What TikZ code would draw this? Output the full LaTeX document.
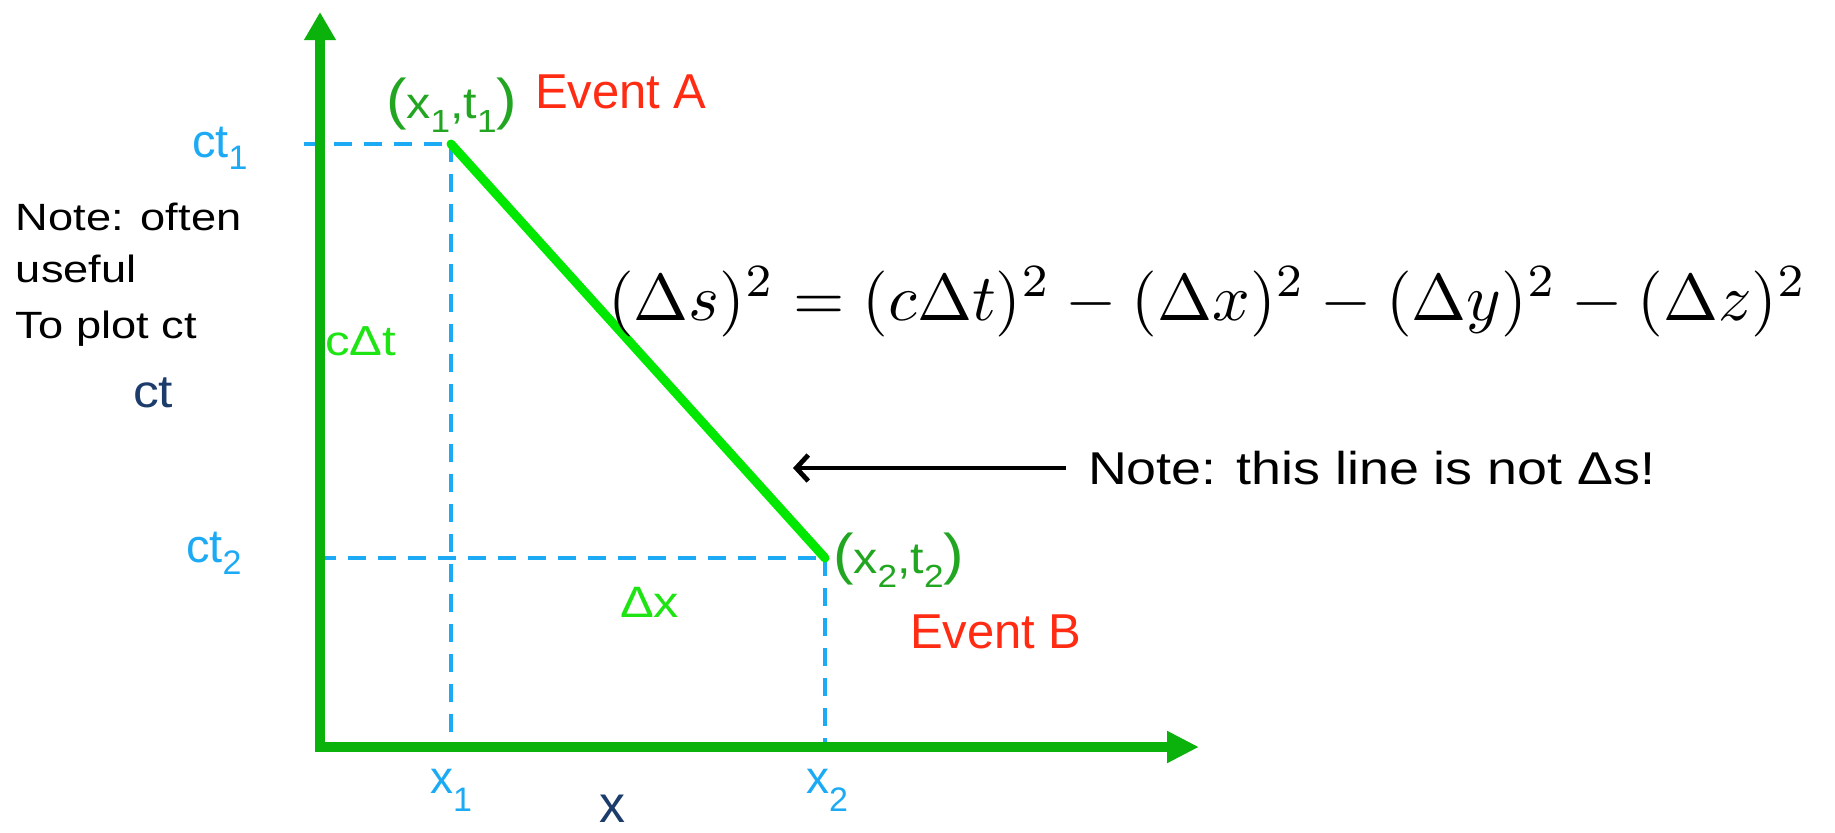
\documentclass[tikz,border=0pt]{standalone}
\usepackage{fontspec}
\setmainfont{Liberation Sans}
\usepackage{graphicx}
\usetikzlibrary{arrows.meta}
\definecolor{axisgreen}{RGB}{12,178,12}
\definecolor{linegreen}{RGB}{0,232,0}
\definecolor{labgreen}{RGB}{34,166,34}
\definecolor{neongreen}{RGB}{30,228,20}
\definecolor{skyblue}{RGB}{28,170,244}
\definecolor{evred}{RGB}{255,43,18}
\definecolor{navy}{RGB}{28,60,108}
\newcommand{\fs}[1]{\fontsize{#1}{#1}\selectfont}
\newcommand{\subsc}[3][15]{\raisebox{-#2}{\fs{#1}#3}}
\begin{document}
\begin{tikzpicture}[x=0.5pt,y=-0.5pt,
  lbl/.style={inner sep=0pt, outer sep=0pt, anchor=base west},
  axis/.style={axisgreen, line width=5pt},
  guide/.style={skyblue, line width=2pt, dash pattern=on 9pt off 6pt},
  world/.style={linegreen, line width=4.5pt}]
\useasboundingbox (0,0) rectangle (1835,832);

% coordinates
\coordinate (Ytop) at (320,12);
\coordinate (Ybot) at (320,752);
\coordinate (Xleft) at (315,747);
\coordinate (Xend) at (1199,747);
\coordinate (A) at (451,144);
\coordinate (B) at (825,558);
\coordinate (ct1s) at (304,144);
\coordinate (ct2s) at (318,558);
\coordinate (x1b) at (451,747);
\coordinate (x2b) at (825,747);

% dashed guides
\draw[guide] (ct1s) -- (A);
\draw[guide] (A) -- (x1b);
\draw[guide] (ct2s) -- (B);
\draw[guide] (B) -- (x2b);

% axes
\draw[axis, -{Triangle[length=14pt,width=15pt]}] (Ybot) -- (Ytop);
\draw[axis, -{Triangle[length=16pt,width=15pt]}] (Xleft) -- (Xend);

% world line
\draw[world, line cap=round] (A) -- (B);

% labels
\node[lbl] (n1) at (16,230) {\fs{19}\scalebox{1.19}[1]{Note: often}};
\node[lbl] (n2) at (16,282) {\fs{19}\scalebox{1.19}[1]{useful}};
\node[lbl] (n3) at (16,338) {\fs{19}\scalebox{1.19}[1]{To plot ct}};
\node[lbl, text=navy] (ctlab) at (133,407) {\fs{23}\scalebox{1.12}[1]{ct}};
\node[lbl, text=neongreen] (cdt) at (325,355) {\fs{21}\scalebox{1.17}[1]{cΔt}};
\node[lbl, text=skyblue] (ct1) at (192,157) {\fs{23.5}ct\subsc[17]{6pt}{1}};
\node[lbl, text=skyblue] (ct2) at (186,562) {\fs{23.5}ct\subsc[17]{6pt}{2}};
\node[lbl, text=labgreen] (Alab) at (386,118) {\scalebox{1.1}[1]{{\fs{28}(}\fs{22}x\subsc[16]{7pt}{1},t\subsc[16]{7pt}{1}{\fs{28})}}};
\node[lbl, text=labgreen] (Blab) at (833,573) {\scalebox{1.1}[1]{{\fs{28}(}\fs{22}x\subsc[16]{7pt}{2},t\subsc[16]{7pt}{2}{\fs{28})}}};
\node[lbl, text=evred] (evA) at (535,108) {\fs{24.5}Event A};
\node[lbl, text=evred] (evB) at (910,648) {\fs{24.5}Event B};
\node[lbl, text=neongreen] (dx) at (620,617) {\fs{22}\scalebox{1.15}[1]{Δx}};
\node[lbl, text=skyblue] (x1) at (430,793) {\fs{23}x\subsc[17]{9pt}{1}};
\node[lbl, text=skyblue] (x2) at (806,793) {\fs{23}x\subsc[17]{9pt}{2}};
\node[lbl, text=navy] (xlab) at (599,822) {\fs{26}x};

% equation
\node[lbl] (eq) at (608,320) {\scalebox{3.3}{$(\Delta s)^2 = (c\Delta t)^2 - (\Delta x)^2 - (\Delta y)^2 - (\Delta z)^2$}};

% note with arrow
\node[lbl] (note) at (1088,484) {\fs{23}\scalebox{1.17}[1]{Note: this line is not Δs!}};
\coordinate (arrtip) at (793,468);
\coordinate (arrtail) at (1066,468);
\draw[line width=2.4pt, {Straight Barb[length=6pt,width=13pt]}-] (arrtip) -- (arrtail);
\end{tikzpicture}
\end{document}
